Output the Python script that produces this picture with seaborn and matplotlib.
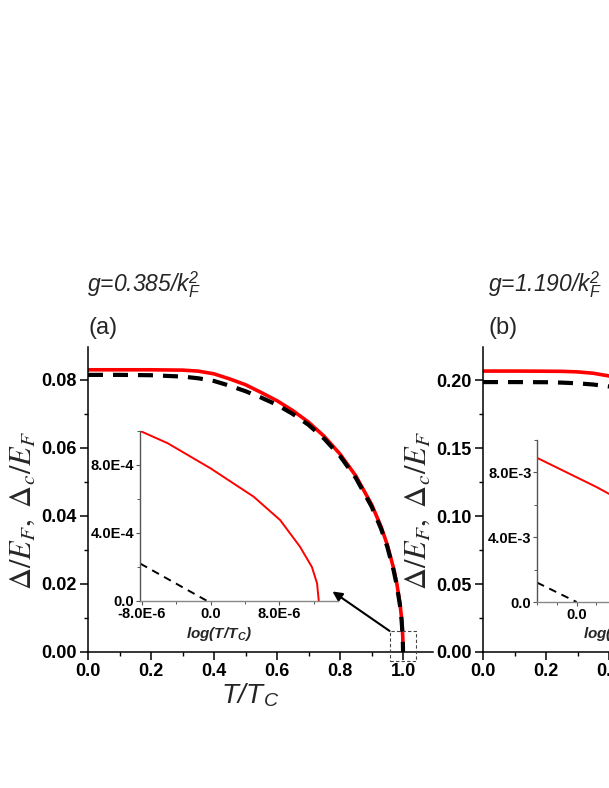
import matplotlib
matplotlib.use("Agg")
import numpy as np
import pandas as pd
import matplotlib.pyplot as plt
import seaborn as sns
from matplotlib.ticker import MultipleLocator
from matplotlib.patches import Rectangle

# ---------------- data ----------------
# panel (a): g = 0.385/kF^2
T_a = [0.0, 0.1, 0.2, 0.3, 0.35, 0.4, 0.45, 0.5, 0.55, 0.6, 0.65, 0.7, 0.75, 0.8, 0.85,
       0.9, 0.93, 0.95, 0.97, 0.98, 0.99, 0.995, 0.999, 1.0]
gap_a = [0.0830, 0.0830, 0.0830, 0.0829, 0.0826, 0.0818, 0.0803, 0.0786, 0.0763, 0.0739,
         0.0710, 0.0676, 0.0634, 0.0582, 0.0518, 0.0434, 0.0369, 0.0315, 0.0246, 0.0202,
         0.0144, 0.0102, 0.0046, 0.0]
gapc_a = [0.0815, 0.0815, 0.0814, 0.0810, 0.0805, 0.0797, 0.0783, 0.0767, 0.0748, 0.0727,
          0.0700, 0.0668, 0.0627, 0.0576, 0.0512, 0.0428, 0.0363, 0.0309, 0.0240, 0.0196,
          0.0138, 0.0097, 0.0043, 0.0]
# inset (a)
ins_a_x_red = [-8.2e-6, -5.0e-6, 0.0, 5.0e-6, 8.1e-6, 10.4e-6, 11.8e-6, 12.4e-6, 12.6e-6]
ins_a_y_red = [1.0e-3, 9.28e-4, 7.8e-4, 6.14e-4, 4.76e-4, 3.2e-4, 2.0e-4, 1.04e-4, 0.0]
ins_a_x_blk = [-8.2e-6, -0.4e-6]
ins_a_y_blk = [2.2e-4, 0.0]
ins_a_xticks = [-8.0e-6, 0.0, 8.0e-6]
ins_a_xticklabels = ["-8.0E-6", "0.0", "8.0E-6"]
ins_a_yticks = [0.0, 4.0e-4, 8.0e-4]
ins_a_yticklabels = ["0.0", "4.0E-4", "8.0E-4"]

# panel (b): g = 1.190/kF^2
T_b = [0.0, 0.1, 0.2, 0.25, 0.3, 0.35, 0.4, 0.45, 0.5, 0.6, 0.7, 0.8, 0.9, 0.95, 0.98, 1.0]
gap_b = [0.2066, 0.2066, 0.2065, 0.2064, 0.2060, 0.2050, 0.2030, 0.2000, 0.1960, 0.1840,
         0.1660, 0.1400, 0.1030, 0.0750, 0.0480, 0.0]
gapc_b = [0.1985, 0.1985, 0.1984, 0.1981, 0.1976, 0.1967, 0.1953, 0.1925, 0.1885, 0.1770,
          0.1600, 0.1350, 0.0995, 0.0725, 0.0465, 0.0]
# inset (b)
ins_b_x_red = [-4.0e-5, -2.0e-5, 0.0, 2.0e-5, 3.5e-5, 6.0e-5, 9.0e-5, 1.2e-4, 1.4e-4, 1.5e-4]
ins_b_y_red = [8.9e-3, 8.3e-3, 7.7e-3, 7.1e-3, 6.6e-3, 5.6e-3, 4.2e-3, 2.4e-3, 1.0e-3, 0.0]
ins_b_x_blk = [-4.0e-5, 0.0]
ins_b_y_blk = [1.2e-3, 0.0]
ins_b_xticks = [0.0, 8.0e-5]
ins_b_xticklabels = ["0.0", "8.0E-5"]
ins_b_yticks = [0.0, 4.0e-3, 8.0e-3]
ins_b_yticklabels = ["0.0", "4.0E-3", "8.0E-3"]

# main axes ticks
main_xticks = [0.0, 0.2, 0.4, 0.6, 0.8, 1.0]
main_xticklabels = ["0.0", "0.2", "0.4", "0.6", "0.8", "1.0"]
a_yticks = [0.00, 0.02, 0.04, 0.06, 0.08]
a_yticklabels = ["0.00", "0.02", "0.04", "0.06", "0.08"]
b_yticks = [0.00, 0.05, 0.10, 0.15, 0.20]
b_yticklabels = ["0.00", "0.05", "0.10", "0.15", "0.20"]

titles = ["g=0.385/k$_{\\mathdefault{F}}^{\\mathdefault{2}}$",
          "g=1.190/k$_{\\mathdefault{F}}^{\\mathdefault{2}}$"]
panel_tags = ["(a)", "(b)"]

# ---------------- style ----------------
sns.set_style("ticks")
plt.rcParams["font.family"] = ["Liberation Sans", "DejaVu Sans"]
plt.rcParams["font.weight"] = "normal"
plt.rcParams["mathtext.fontset"] = "stix"
plt.rcParams["axes.linewidth"] = 1.1

W, H = 609, 788
fig = plt.figure(figsize=(W / 100, H / 100), dpi=100)


def axes_px(l, t, r, b):
    return fig.add_axes([l / W, 1 - b / H, (r - l) / W, (b - t) / H])


RED = "#ff0000"


def style_main(ax, ylim, yt, ytl, yminor):
    ax.set_xlim(0, 1.095)
    ax.set_ylim(*ylim)
    ax.set_xticks(main_xticks, main_xticklabels, fontweight="bold", fontsize=13)
    ax.set_yticks(yt, ytl, fontweight="bold", fontsize=13)
    ax.xaxis.set_minor_locator(MultipleLocator(0.1))
    ax.yaxis.set_minor_locator(MultipleLocator(yminor))
    for s in ["top", "right"]:
        ax.spines[s].set_visible(False)
    for s in ["left", "bottom"]:
        ax.spines[s].set_color("black")
    ax.tick_params(which="major", direction="out", length=6, width=1.1, pad=2, colors="black")
    ax.tick_params(which="minor", direction="out", length=3, width=1.0, colors="black")
    ax.set_xlabel("T/T$_{\\mathdefault{C}}$", fontsize=20, fontstyle="italic", fontweight="normal")
    ax.xaxis.set_label_coords(0.47, -0.098)
    ax.set_ylabel(r"$\Delta/E_F,\ \Delta_c/E_F$", fontsize=22, fontweight="normal")
    ax.yaxis.set_label_coords(-0.145, 0.465)
    ax.patch.set_alpha(0)


def style_inset(ax, xlim, ylim, xt, xtl, yt, ytl, xminor, yminor):
    ax.set_xticks(xt, xtl, fontweight="bold", fontsize=10.5)
    ax.set_yticks(yt, ytl, fontweight="bold", fontsize=10.5)
    ax.set_xlim(*xlim)
    ax.set_ylim(*ylim)
    ax.xaxis.set_minor_locator(MultipleLocator(xminor))
    ax.yaxis.set_minor_locator(MultipleLocator(yminor))
    for s in ["top", "right"]:
        ax.spines[s].set_visible(False)
    ax.spines["left"].set_color("#555555")
    ax.spines["bottom"].set_color("#888888")
    ax.spines["left"].set_linewidth(1.0)
    ax.spines["bottom"].set_linewidth(1.0)
    ax.tick_params(which="major", direction="out", length=3, width=0.8, pad=1,
                   colors="#555555", labelcolor="black")
    ax.tick_params(which="minor", direction="out", length=2, width=0.7, colors="#555555")
    ax.set_ylabel("")
    ax.set_xlabel("log(T/T$_{\\mathdefault{C}}$)", fontsize=11, fontstyle="italic",
                  fontweight="bold")
    ax.xaxis.set_label_coords(0.40, -0.14)
    ax.patch.set_alpha(0)


# ---------------- panel (a) ----------------
axA = axes_px(88, 347, 433, 652)
df_a = pd.DataFrame({"T": T_a, "gap": gap_a, "gapc": gapc_a})
sns.lineplot(data=df_a, x="T", y="gap", ax=axA, color=RED, linewidth=2.6, legend=False)
sns.lineplot(data=df_a, x="T", y="gapc", ax=axA, color="black", linewidth=3.0,
             linestyle=(0, (3.6, 2.4)), legend=False)
style_main(axA, (0, 0.0897), a_yticks, a_yticklabels, 0.01)

# dashed zoom box and arrow
axA.add_patch(Rectangle((0.957, -0.0026), 0.083, 0.0088, fill=False, linestyle=(0, (3, 2)),
                        linewidth=0.8, edgecolor="#444444", clip_on=False, zorder=5))
axA.annotate("", xy=(0.776, 0.0178), xytext=(0.957, 0.0062),
             arrowprops=dict(arrowstyle="-|>", color="black", lw=1.5, mutation_scale=14,
                             shrinkA=0, shrinkB=0), zorder=6)

insA = axes_px(140, 431, 338, 601)
df_ia_r = pd.DataFrame({"x": ins_a_x_red, "y": ins_a_y_red})
df_ia_b = pd.DataFrame({"x": ins_a_x_blk, "y": ins_a_y_blk})
sns.lineplot(data=df_ia_r, x="x", y="y", ax=insA, color=RED, linewidth=1.4, legend=False)
sns.lineplot(data=df_ia_b, x="x", y="y", ax=insA, color="black", linewidth=1.4,
             linestyle=(0, (4, 3)), legend=False)
style_inset(insA, (-8.23e-6, 1.484e-5), (0, 1.0e-3), ins_a_xticks, ins_a_xticklabels,
            ins_a_yticks, ins_a_yticklabels, 4e-6, 2e-4)

# ---------------- panel (b) ----------------
axB = axes_px(483, 347, 828, 652)
df_b = pd.DataFrame({"T": T_b, "gap": gap_b, "gapc": gapc_b})
sns.lineplot(data=df_b, x="T", y="gap", ax=axB, color=RED, linewidth=2.6, legend=False)
sns.lineplot(data=df_b, x="T", y="gapc", ax=axB, color="black", linewidth=3.0,
             linestyle=(0, (3.6, 2.4)), legend=False)
style_main(axB, (0, 0.2243), b_yticks, b_yticklabels, 0.025)

insB = axes_px(537, 440, 735, 602)
df_ib_r = pd.DataFrame({"x": ins_b_x_red, "y": ins_b_y_red})
df_ib_b = pd.DataFrame({"x": ins_b_x_blk, "y": ins_b_y_blk})
sns.lineplot(data=df_ib_r, x="x", y="y", ax=insB, color=RED, linewidth=1.4, legend=False)
sns.lineplot(data=df_ib_b, x="x", y="y", ax=insB, color="black", linewidth=1.4,
             linestyle=(0, (4, 3)), legend=False)
style_inset(insB, (-4.0e-5, 1.6e-4), (0, 1.0e-2), ins_b_xticks, ins_b_xticklabels,
            ins_b_yticks, ins_b_yticklabels, 2e-5, 2e-3)

# ---------------- titles ----------------
for x0, title, tag in zip([87, 488], titles, panel_tags):
    fig.text(x0 / W, 1 - 292 / H, title, fontsize=16.5, fontstyle="italic", fontweight="normal",
             va="baseline", ha="left")
    fig.text((x0 + 1) / W, 1 - 334 / H, tag, fontsize=17, fontweight="normal",
             va="baseline", ha="left")

fig.savefig("out.png", dpi=100)
